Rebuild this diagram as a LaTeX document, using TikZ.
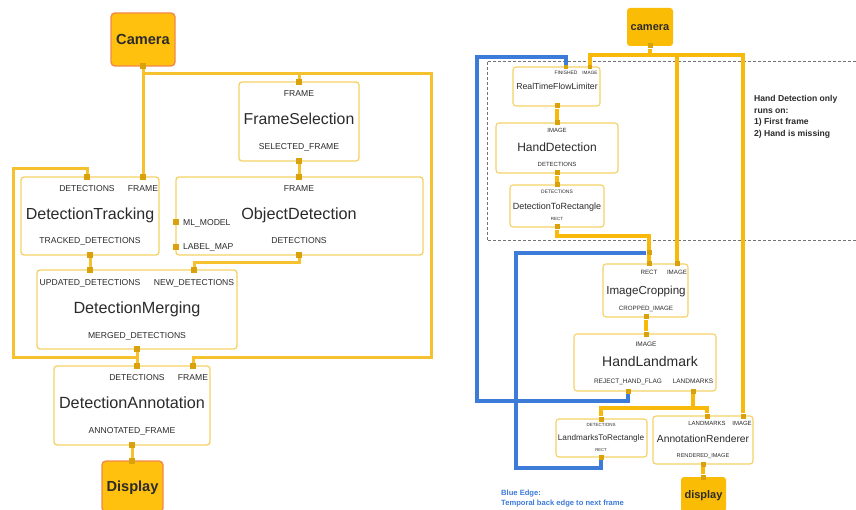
\documentclass[tikz,border=0pt]{standalone}
\usepackage{fontspec}
\setmainfont{Liberation Sans}
\usetikzlibrary{backgrounds}
\definecolor{edgeL}{HTML}{F6C12E}
\definecolor{edgeR}{HTML}{F9B90A}
\definecolor{edgeB}{HTML}{3D7BD9}
\definecolor{boxline}{HTML}{F5D165}
\definecolor{portfill}{HTML}{D9A20C}
\definecolor{srcfill}{HTML}{FFC10E}
\definecolor{srcfillR}{HTML}{FBBC05}
\definecolor{srcline}{HTML}{F2884A}
\definecolor{ink}{HTML}{2B2B2B}
\begin{document}
\begin{tikzpicture}[x=1pt,y=-1pt,
  blk/.style={draw=boxline, line width=1.3pt, rounded corners=3pt, fill=white, inner sep=0pt},
  blkR/.style={draw=boxline, line width=1.1pt, rounded corners=3pt, fill=white, inner sep=0pt},
  src/.style={draw=srcline, line width=1.4pt, rounded corners=4pt, fill=srcfill, inner sep=0pt,
    text=ink, font=\bfseries\fontsize{14.6}{16}\selectfont, text height=10.5pt, text depth=0pt},
  srcR/.style={fill=srcfillR, rounded corners=3pt, inner sep=0pt, text=ink,
    font=\bfseries\fontsize{11}{12}\selectfont, text height=8pt, text depth=0pt},
  portL/.style={fill=portfill, minimum size=6pt, inner sep=0pt},
  portR/.style={fill=portfill, minimum size=5pt, inner sep=0pt},
  txt/.style 2 args={font=\fontsize{#1}{#1}\selectfont, text height=#2pt, text depth=0pt, inner sep=0pt, text=ink},
  eL/.style={draw=edgeL, line width=3pt},
  eR/.style={draw=edgeR, line width=3.8pt},
  eB/.style={draw=edgeB, line width=3.8pt},
]
\useasboundingbox (0,0) rectangle (856,510);

% ---------------- object detection graph ----------------
\node[src, minimum width=64pt, minimum height=53pt] (cam) at (143,39.5) {Camera};
\node[blk, minimum width=120pt, minimum height=79pt] (fs) at (299,121.5) {};
\node[blk, minimum width=138pt, minimum height=78pt] (dt) at (90,216) {};
\node[blk, minimum width=247pt, minimum height=78pt] (od) at (299.5,216) {};
\node[blk, minimum width=200pt, minimum height=79pt] (dm) at (137,309.5) {};
\node[blk, minimum width=156pt, minimum height=79pt] (da) at (132,405.5) {};
\node[src, minimum width=61pt, minimum height=51pt] (disp) at (132.5,486.5) {Display};

% labels
\node[txt={8.6}{6.2}] (fs-l1) at (299,93) {FRAME};
\node[txt={15.8}{11.3}] (fs-t) at (299,119) {FrameSelection};
\node[txt={8.6}{6.2}] (fs-l2) at (299,146) {SELECTED\_FRAME};

\node[txt={8.6}{6.2}] (dt-l1) at (87,188) {DETECTIONS};
\node[txt={8.6}{6.2}] (dt-l2) at (143,188) {FRAME};
\node[txt={16}{11.5}] (dt-t) at (90,214) {DetectionTracking};
\node[txt={8.6}{6.2}] (dt-l3) at (90,240) {TRACKED\_DETECTIONS};

\node[txt={8.6}{6.2}] (od-l1) at (299,188) {FRAME};
\node[txt={16.2}{11.6}] (od-t) at (299,214) {ObjectDetection};
\node[txt={8.6}{6.2}] (od-l2) at (299,240) {DETECTIONS};
\node[txt={8.6}{6.2}, anchor=west] (od-l3) at (183,222) {ML\_MODEL};
\node[txt={8.6}{6.2}, anchor=west] (od-l4) at (183,246) {LABEL\_MAP};

\node[txt={8.6}{6.2}] (dm-l1) at (90,282) {UPDATED\_DETECTIONS};
\node[txt={8.6}{6.2}] (dm-l2) at (194,282) {NEW\_DETECTIONS};
\node[txt={16.2}{11.6}] (dm-t) at (137,308) {DetectionMerging};
\node[txt={8.6}{6.2}] (dm-l3) at (137,335) {MERGED\_DETECTIONS};

\node[txt={8.6}{6.2}] (da-l1) at (137,377) {DETECTIONS};
\node[txt={8.6}{6.2}] (da-l2) at (193,377) {FRAME};
\node[txt={16.2}{11.6}] (da-t) at (132,403) {DetectionAnnotation};
\node[txt={8.6}{6.2}] (da-l3) at (132,430) {ANNOTATED\_FRAME};

% ports
\node[portL] (p-cam) at (143,66) {};
\node[portL] (p-fs-in) at (299,82) {};
\node[portL] (p-fs-out) at (299,161) {};
\node[portL] (p-dt-det) at (87,177) {};
\node[portL] (p-dt-frame) at (143,177) {};
\node[portL] (p-dt-out) at (90,255) {};
\node[portL] (p-od-frame) at (299,177) {};
\node[portL] (p-od-ml) at (176,222) {};
\node[portL] (p-od-lm) at (176,247) {};
\node[portL] (p-od-out) at (299,255) {};
\node[portL] (p-dm-upd) at (90,270) {};
\node[portL] (p-dm-new) at (194,270) {};
\node[portL] (p-dm-out) at (137,349) {};
\node[portL] (p-da-det) at (137,366) {};
\node[portL] (p-da-frame) at (193,366) {};
\node[portL] (p-da-out) at (132,445) {};
\node[portL] (p-disp-in) at (132,461) {};

% ---------------- hand tracking graph ----------------
\node[srcR, minimum width=46pt, minimum height=38pt] (cam2) at (650,27) {camera};
\node[blkR, minimum width=87pt, minimum height=39pt] (rt) at (556.5,86.5) {};
\node[blkR, minimum width=122pt, minimum height=50pt] (hd) at (557,148) {};
\node[blkR, minimum width=94pt, minimum height=42pt] (dr) at (557,206) {};
\node[blkR, minimum width=85pt, minimum height=53pt] (ic) at (645.5,290.5) {};
\node[blkR, minimum width=142pt, minimum height=57pt] (hl) at (645,362.5) {};
\node[blkR, minimum width=91pt, minimum height=38pt] (lr) at (601.5,438) {};
\node[blkR, minimum width=100pt, minimum height=48pt] (ar) at (703,440) {};
\node[srcR, minimum width=45pt, minimum height=35pt] (disp2) at (703.5,494.5) {display};

\node[txt={4.9}{3.5}] (rt-l1) at (566,73) {FINISHED};
\node[txt={4.7}{3.4}] (rt-l2) at (590,73) {IMAGE};
\node[txt={8.7}{6.2}] (rt-t) at (557,86) {RealTimeFlowLimiter};

\node[txt={6}{4.3}] (hd-l1) at (557,130) {IMAGE};
\node[txt={12}{8.6}] (hd-t) at (557,147) {HandDetection};
\node[txt={6}{4.3}] (hd-l2) at (557,164) {DETECTIONS};

\node[txt={4.9}{3.5}] (dr-l1) at (557,192) {DETECTIONS};
\node[txt={9}{6.4}] (dr-t) at (557,206) {DetectionToRectangle};
\node[txt={4.5}{3.2}] (dr-l2) at (557,219) {RECT};

\node[txt={6.2}{4.4}] (ic-l1) at (649,272) {RECT};
\node[txt={6.2}{4.4}] (ic-l2) at (677,272) {IMAGE};
\node[txt={11.6}{8.3}] (ic-t) at (646,290) {ImageCropping};
\node[txt={6.2}{4.4}] (ic-l3) at (646,308) {CROPPED\_IMAGE};

\node[txt={6.5}{4.7}] (hl-l1) at (646,344) {IMAGE};
\node[txt={14}{10}] (hl-t) at (650,361) {HandLandmark};
\node[txt={6.5}{4.7}] (hl-l2) at (628,381) {REJECT\_HAND\_FLAG};
\node[txt={6.5}{4.7}] (hl-l3) at (693,381) {LANDMARKS};

\node[txt={4.5}{3.2}] (lr-l1) at (601,425) {DETECTIONS};
\node[txt={8.2}{5.9}] (lr-t) at (601,438) {LandmarksToRectangle};
\node[txt={4.2}{3}] (lr-l2) at (601,450) {RECT};

\node[txt={6}{4.3}] (ar-l1) at (707,423) {LANDMARKS};
\node[txt={6}{4.3}] (ar-l2) at (742,423) {IMAGE};
\node[txt={10.3}{7.4}] (ar-t) at (703,439) {AnnotationRenderer};
\node[txt={5.6}{4}] (ar-l3) at (703,455) {RENDERED\_IMAGE};

\node[anchor=north west, align=left, inner sep=0pt, text=ink,
  font=\bfseries\fontsize{8.6}{11.7}\selectfont] (note) at (754,95)
  {Hand Detection only\\runs on:\\1) First frame\\2) Hand is missing};
\node[anchor=north west, align=left, inner sep=0pt, text=edgeB,
  font=\bfseries\fontsize{7.6}{10}\selectfont] (bluenote) at (501,489.3)
  {Blue Edge:\\Temporal back edge to next frame};

% ports
\node[portR] (q-cam) at (650,46) {};
\node[portR, minimum size=4pt] (q-rt-fin) at (566,67) {};
\node[portR, minimum size=4pt] (q-rt-img) at (590,67) {};
\node[portR] (q-rt-out) at (557,106) {};
\node[portR] (q-hd-in) at (557,123) {};
\node[portR] (q-hd-out) at (557,173) {};
\node[portR] (q-dr-in) at (557,185) {};
\node[portR] (q-dr-out) at (557,227) {};
\node[portR] (q-ic-rect) at (649,264) {};
\node[portR] (q-ic-img) at (677,264) {};
\node[portR] (q-ic-out) at (646,317) {};
\node[portR] (q-hl-in) at (646,334) {};
\node[portR] (q-hl-rej) at (628,391) {};
\node[portR] (q-hl-lm) at (693,391) {};
\node[portR] (q-lr-in) at (601,419) {};
\node[portR] (q-lr-out) at (601,457) {};
\node[portR] (q-ar-lm) at (707,416) {};
\node[portR] (q-ar-img) at (743,416) {};
\node[portR] (q-ar-out) at (703,464) {};
\node[portR] (q-disp) at (703,477) {};
\node[portR] (q-join) at (649,253) {};

% bend points
\coordinate (camsplit) at (143,74);
\coordinate (fbTopRight) at (431,74);
\coordinate (fbBotRight) at (431,357);
\coordinate (odbend) at (299,263);
\coordinate (loopA) at (137,357);
\coordinate (loopB) at (13,357);
\coordinate (loopC) at (13,169);
\coordinate (camR) at (650,55);
\coordinate (drbend) at (557,236);
\coordinate (lmsplit) at (693,408);
\coordinate (b1) at (477,401);
\coordinate (b2) at (477,57);
\coordinate (b3) at (516,468);
\coordinate (b4) at (516,253);

\begin{scope}[on background layer]
  \fill[white] (0,0) rectangle (856,510);
  % region where hand detection runs
  \draw[black!55, line width=1pt, dash pattern=on 2.6pt off 2.4pt] (487,62) rectangle (870,241);

  % object detection edges
  \draw[eL] (p-cam) -- (p-dt-frame);
  \draw[eL] (camsplit) -| (p-fs-in);
  \draw[eL] (camsplit) -- (fbTopRight) -- (fbBotRight) -| (p-da-frame);
  \draw[eL] (p-fs-out) -- (p-od-frame);
  \draw[eL] (p-dt-out) -- (p-dm-upd);
  \draw[eL] (p-od-out) -- (odbend) -| (p-dm-new);
  \draw[eL] (p-dm-out) -- (p-da-det);
  \draw[eL] (loopA) -- (loopB) -- (loopC) -| (p-dt-det);
  \draw[eL] (p-da-out) -- (p-disp-in);

  % hand tracking edges
  \draw[eR] (q-cam) -- (camR);
  \draw[eR] (camR) -| (q-rt-img);
  \draw[eR] (camR) -| (q-ic-img);
  \draw[eR] (camR) -| (q-ar-img);
  \draw[eR] (q-rt-out) -- (q-hd-in);
  \draw[eR] (q-hd-out) -- (q-dr-in);
  \draw[eR] (q-dr-out) -- (drbend) -| (q-ic-rect);
  \draw[eR] (q-ic-out) -- (q-hl-in);
  \draw[eR] (q-hl-lm) -- (lmsplit) -| (q-lr-in);
  \draw[eR] (lmsplit) -| (q-ar-lm);
  \draw[eR] (q-ar-out) -- (q-disp);

  % temporal back edges
  \draw[eB] (q-hl-rej) |- (b1) -- (b2) -| (q-rt-fin);
  \draw[eB] (q-lr-out) |- (b3) -- (b4) -- (q-join);
\end{scope}
\end{tikzpicture}
\end{document}
